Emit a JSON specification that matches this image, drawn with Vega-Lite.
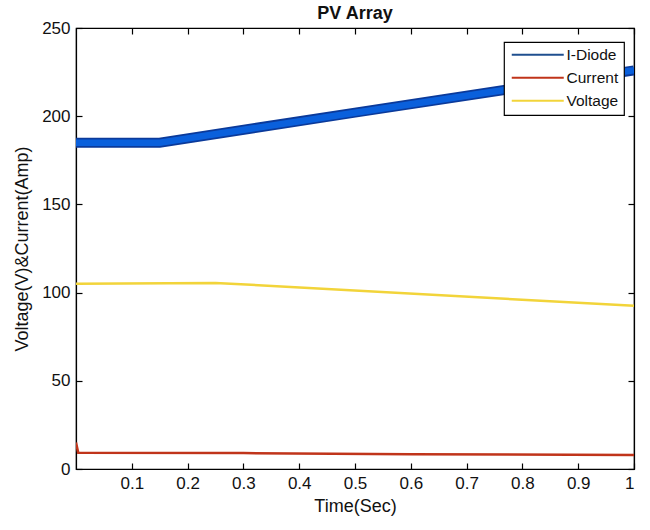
{
  "$schema": "https://vega.github.io/schema/vega-lite/v6.json",
  "width": 558,
  "height": 441,
  "autosize": {"type": "none"},
  "padding": {"left": 76, "top": 28, "right": 16, "bottom": 61},
  "background": "white",
  "title": {"text": "PV Array", "fontSize": 18, "font": "Liberation Sans", "fontWeight": "bold", "color": "#111111", "anchor": "middle", "offset": -4},
  "config": {
    "view": {"stroke": "black", "strokeWidth": 1.2},
    "font": "Liberation Sans",
    "axis": {
      "domainColor": "black", "domainWidth": 1.2, "tickColor": "black", "tickWidth": 1.2, "tickSize": -6,
      "labelColor": "#111111", "titleColor": "#111111",
      "labelFont": "Liberation Sans", "titleFont": "Liberation Sans",
      "labelFontSize": 17, "titleFontSize": 18, "titleFontWeight": "normal", "grid": false
    },
    "legend": {
      "orient": "none", "legendX": 428, "legendY": 14,
      "fillColor": "white", "strokeColor": "black", "strokeWidth": 1.2,
      "padding": 5, "labelFont": "Liberation Sans", "labelFontSize": 15.5, "labelColor": "#111111",
      "symbolType": "M-1,0H9.4", "symbolSize": 100, "symbolStrokeWidth": 2, "labelOffset": 42, "rowPadding": 6
    }
  },
  "data": {
    "values": [
      {"series": "I-Diode", "t": 0, "v": 185},
      {"series": "I-Diode", "t": 0.15, "v": 185},
      {"series": "I-Diode", "t": 0.5, "v": 202},
      {"series": "I-Diode", "t": 1, "v": 226},
      {"series": "Current", "t": 0, "v": 15},
      {"series": "Current", "t": 0.004, "v": 9.2},
      {"series": "Current", "t": 0.3, "v": 9},
      {"series": "Current", "t": 0.6, "v": 8.4},
      {"series": "Current", "t": 1, "v": 8},
      {"series": "Voltage", "t": 0, "v": 105},
      {"series": "Voltage", "t": 0.25, "v": 105.5},
      {"series": "Voltage", "t": 1, "v": 92.5}
    ]
  },
  "layer": [
    {
      "mark": {"type": "line", "strokeWidth": 2.5, "clip": true},
      "encoding": {
        "x": {"field": "t", "type": "quantitative", "scale": {"domain": [0, 1], "nice": false, "zero": false},
              "axis": {"orient": "bottom", "values": [0.1, 0.2, 0.3, 0.4, 0.5, 0.6, 0.7, 0.8, 0.9, 1], "format": ".1~f", "labelPadding": 12, "title": "Time(Sec)", "titlePadding": 6}},
        "y": {"field": "v", "type": "quantitative", "scale": {"domain": [0, 250], "nice": false},
              "axis": {"orient": "left", "values": [0, 50, 100, 150, 200, 250], "labelPadding": 12, "title": "Voltage(V)&Current(Amp)", "titlePadding": 10}},
        "color": {"field": "series", "type": "nominal",
                  "scale": {"domain": ["I-Diode", "Current", "Voltage"], "range": ["#1f4f8f", "#c0341a", "#f2d43a"]},
                  "legend": {"title": null}}
      }
    },
    {
      "transform": [{"filter": "datum.series === 'I-Diode'"}],
      "mark": {"type": "line", "strokeWidth": 10, "color": "#0b3a9a", "clip": true},
      "encoding": {
        "x": {"field": "t", "type": "quantitative",
              "axis": {"orient": "top", "values": [0.1, 0.2, 0.3, 0.4, 0.5, 0.6, 0.7, 0.8, 0.9, 1], "labels": false, "title": null}},
        "y": {"field": "v", "type": "quantitative",
              "axis": {"orient": "right", "values": [0, 50, 100, 150, 200, 250], "labels": false, "title": null}}
      }
    },
    {
      "transform": [{"filter": "datum.series === 'I-Diode'"}],
      "mark": {"type": "line", "strokeWidth": 6.5, "color": "#0a60dc", "clip": true},
      "encoding": {
        "x": {"field": "t", "type": "quantitative", "axis": null},
        "y": {"field": "v", "type": "quantitative", "axis": null}
      }
    }
  ],
  "resolve": {"axis": {"x": "independent", "y": "independent"}}
}
